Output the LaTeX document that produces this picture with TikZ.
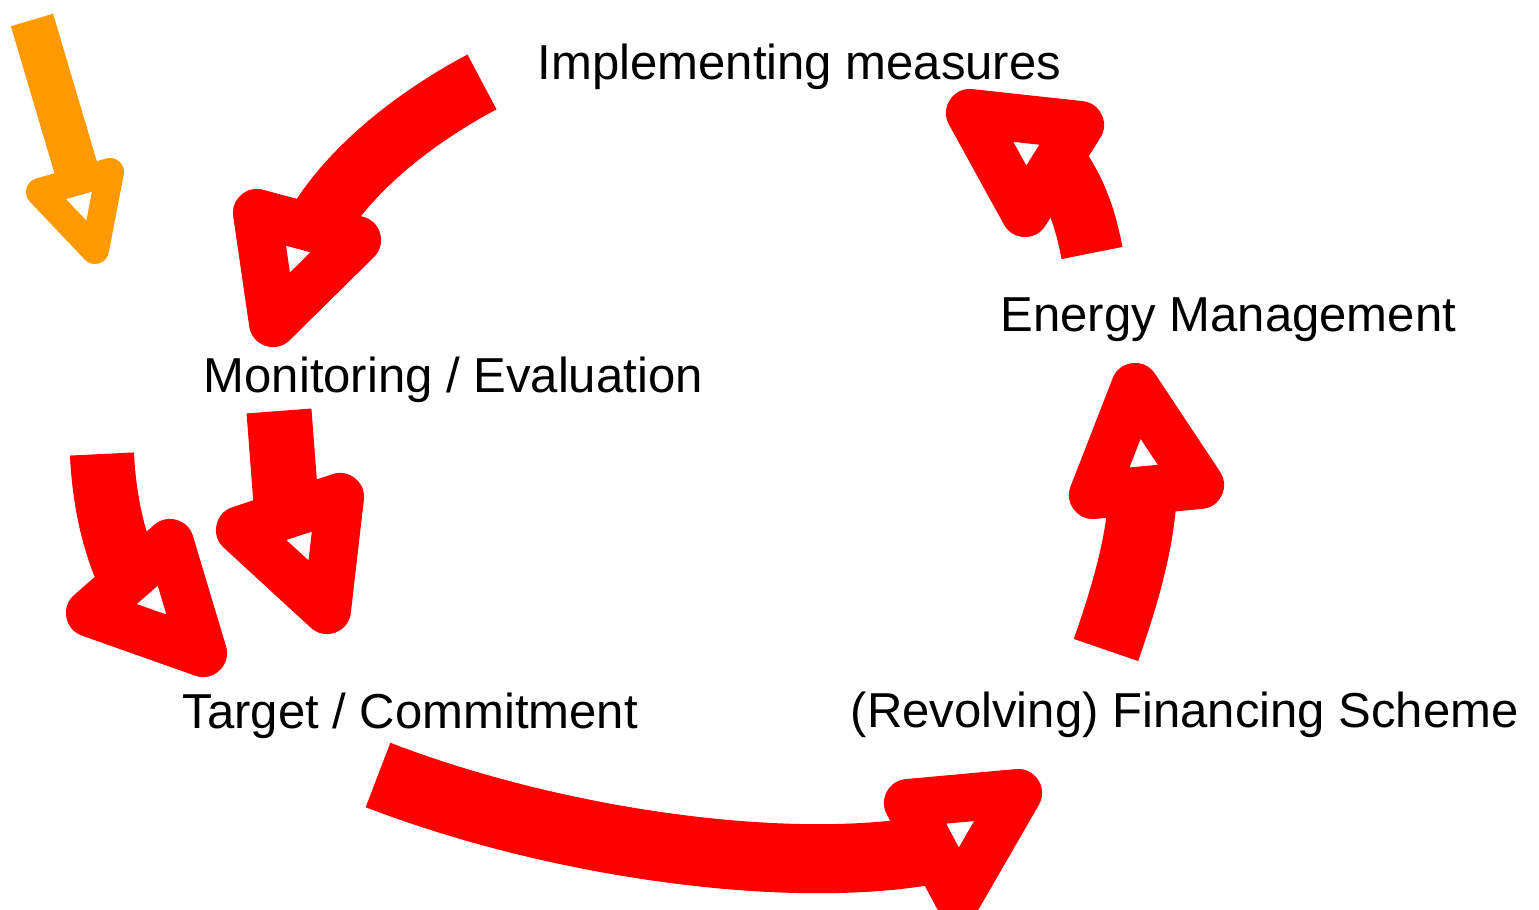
\documentclass[tikz,border=0pt]{standalone}
\usepackage{fontspec}
\setmainfont{Liberation Sans}
\usepackage{tikz}

\definecolor{cyclered}{RGB}{255,0,0}
\definecolor{kickorange}{RGB}{255,153,0}

\tikzset{
	stage/.style={anchor=base west, inner sep=0pt, font=\fontsize{13.95pt}{16pt}\selectfont},
	shaft/.style={draw=cyclered, line cap=butt},
	head/.style={draw=cyclered, line width=4.8mm, line join=round},
	kickshaft/.style={draw=kickorange, line cap=butt, line width=4.4mm},
	kickhead/.style={draw=kickorange, line width=2.8mm, line join=round}
}

\begin{document}
\begin{tikzpicture}[x=0.01cm, y=-0.01cm]
	\useasboundingbox (0,0) rectangle (1539,910);

	% the five stages
	\node[stage] (M) at (537,80) {Implementing measures};
	\node[stage] (E) at (1000,332) {Energy Management};
	\node[stage] (V) at (203,393) {Monitoring / Evaluation};
	\node[stage] (T) at (182,729) {Target / Commitment};
	\node[stage] (F) at (850,728) {(Revolving) Financing Scheme};

	% entry arrow
	\draw[kickshaft] (32,20) -- (80,182);
	\draw[kickhead] (40,192) -- (110,172) -- (95,250) -- cycle;

	% measures -> monitoring
	\draw[shaft, line width=6.2mm] (482,82) .. controls (425,112) and (350,165) .. (313,232);
	\draw[head] (257,213) -- (357,240) -- (273,323) -- cycle;

	% monitoring -> target
	\draw[shaft, line width=6.5mm] (279,411) -- (287,516);
	\draw[head] (240,530) -- (340,497) -- (327,610) -- cycle;
	\draw[shaft, line width=6.4mm] (102,454) .. controls (104,500) and (114,545) .. (131,580);
	\draw[head] (90,613) -- (170,543) -- (203,653) -- cycle;

	% target -> financing
	\draw[shaft, line width=6.9mm] (378,775) .. controls (560,845) and (790,875) .. (930,850);
	\draw[head] (908,803) -- (1018,793) -- (958,897) -- cycle;

	% financing -> energy management
	\draw[shaft, line width=6.8mm] (1106,650) .. controls (1125,595) and (1140,545) .. (1143,492);
	\draw[head] (1135,387) -- (1093,495) -- (1200,485) -- cycle;

	% energy management -> measures
	\draw[shaft, line width=6.2mm] (1092,253) .. controls (1086,222) and (1078,195) .. (1058,166);
	\draw[head] (970,113) -- (1080,125) -- (1025,213) -- cycle;
\end{tikzpicture}
\end{document}
